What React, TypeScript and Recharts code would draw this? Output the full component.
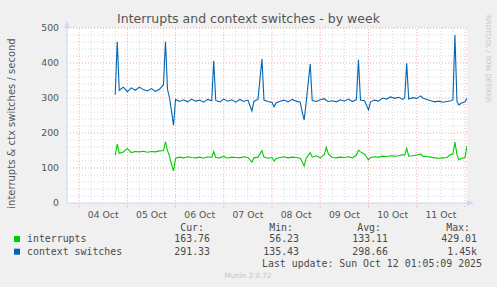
import { CartesianGrid, Line, LineChart, ReferenceLine, XAxis, YAxis } from "recharts";

// hours since 04 Oct 00:00
const hours = [
  18, 19, 20, 22, 24, 26, 28, 30, 32, 34, 36, 38, 40, 42, 43, 44, 45, 46, 47, 48,
  50, 52, 54, 56, 58, 60, 62, 64, 66, 67, 68, 70, 72, 74, 76, 78, 80, 82, 84, 86,
  87, 89, 91, 92, 94, 96, 97, 98, 100, 102, 104, 106, 108, 110, 111, 112, 113, 115, 116, 118,
  120, 122, 123, 124, 126, 128, 130, 132, 134, 136, 138, 139, 140, 142, 144, 145, 147, 149, 151, 153,
  155, 157, 159, 161, 162, 163, 164, 166, 168, 170, 171, 173, 175, 177, 179, 181, 183, 185, 186, 187,
  188, 189, 190, 192, 193,
];

const contextSwitches = [
  310, 461, 322, 331, 318, 329, 322, 331, 324, 320, 327, 319, 325, 338, 461, 325, 300, 262, 222, 296,
  290, 295, 289, 297, 291, 294, 288, 296, 292, 406, 293, 289, 297, 291, 295, 288, 296, 290, 294, 263,
  291, 296, 411, 294, 290, 287, 275, 286, 291, 294, 289, 296, 291, 288, 260, 237, 289, 397, 293, 290,
  295, 298, 293, 290, 292, 289, 295, 291, 297, 290, 296, 409, 294, 292, 266, 289, 294, 291, 300, 297,
  303, 299, 302, 296, 300, 399, 297, 301, 299, 306, 300, 296, 292, 289, 291, 288, 290, 292, 295, 480,
  290, 280, 285, 289, 299,
];

const interrupts = [
  137, 168, 142, 146, 156, 144, 147, 146, 148, 145, 147, 146, 149, 150, 175, 150, 134, 110, 92, 128,
  131, 129, 132, 130, 129, 131, 128, 132, 130, 147, 130, 129, 133, 128, 131, 130, 129, 132, 130, 117,
  129, 131, 150, 131, 128, 130, 120, 127, 130, 132, 129, 131, 130, 128, 118, 106, 128, 144, 131, 135,
  129, 138, 159, 140, 130, 129, 131, 130, 132, 129, 137, 151, 146, 140, 123, 130, 132, 131, 134, 133,
  135, 134, 135, 138, 137, 156, 134, 135, 137, 140, 134, 133, 131, 129, 128, 129, 130, 139, 140, 174,
  138, 123, 127, 130, 163,
];

const dayLabels = ["04 Oct", "05 Oct", "06 Oct", "07 Oct", "08 Oct", "09 Oct", "10 Oct", "11 Oct"];
const labelHours = [12, 36, 60, 84, 108, 132, 156, 180];
const midnightHours = [0, 24, 48, 72, 96, 120, 144, 168, 192];
const minorHours = [
  6, 12, 18, 30, 36, 42, 54, 60, 66, 78, 84, 90, 102, 108, 114, 126, 132, 138, 150, 156, 162, 174, 180, 186,
];
const yTicks = [0, 100, 200, 300, 400, 500];
const yMinor = [
  20, 40, 60, 80, 120, 140, 160, 180, 220, 240, 260, 280, 320, 340, 360, 380, 420, 440, 460, 480,
];

const legendRows = [
  { name: "interrupts", color: "#00cc00", cur: "163.76", min: "56.23", avg: "133.11", max: "429.01" },
  { name: "context switches", color: "#0066b3", cur: "291.33", min: "135.43", avg: "298.66", max: "1.45k" },
];

const data = hours.map((h, i) => ({ h, irq: interrupts[i], cs: contextSwitches[i] }));

const FONT = "'DejaVu Sans', sans-serif";
const MONO = "'DejaVu Sans Mono', monospace";
const AXIS = "#cfd6f8";

export default function App() {
  return (
    <div
      style={{
        position: "fixed",
        left: 0,
        top: 0,
        width: 497,
        height: 287,
        background: "#f0f0f0",
        overflow: "hidden",
        fontFamily: FONT,
      }}
    >
      <LineChart
        width={497}
        height={287}
        data={data}
        margin={{ top: 28, right: 30, left: 27, bottom: 64 }}
        style={{ position: "absolute", left: 0, top: 0 }}
      >
        <CartesianGrid fill="#ffffff" horizontal={false} vertical={false} />
        {minorHours.map((h) => (
          <ReferenceLine key={"vm" + h} x={h} stroke="#d6d6d6" strokeDasharray="1 2" />
        ))}
        {yMinor.map((v) => (
          <ReferenceLine key={"hm" + v} y={v} stroke="#d6d6d6" strokeDasharray="1 2" />
        ))}
        {yTicks.slice(1).map((v) => (
          <ReferenceLine key={"hM" + v} y={v} stroke="#eba5a5" strokeDasharray="1 2" />
        ))}
        {midnightHours.map((h) => (
          <ReferenceLine
            key={"vM" + h}
            segment={[
              { x: h, y: -12 },
              { x: h, y: 500 },
            ]}
            ifOverflow="visible"
            stroke="#eba5a5"
            strokeDasharray="1 2"
          />
        ))}
        <XAxis
          type="number"
          dataKey="h"
          domain={[-6, 193]}
          allowDataOverflow
          ticks={labelHours}
          interval={0}
          tickFormatter={(v: number) => dayLabels[labelHours.indexOf(v)]}
          tickLine={false}
          axisLine={{ stroke: AXIS }}
          tick={{ fontSize: 9.3, fill: "#555", fontFamily: FONT }}
          height={20}
        />
        <YAxis
          domain={[0, 500]}
          ticks={yTicks}
          interval={0}
          tickLine={false}
          axisLine={{ stroke: AXIS }}
          tick={{ fontSize: 9.3, fill: "#555", fontFamily: FONT }}
          width={40}
        />
        <Line
          type="linear"
          dataKey="irq"
          stroke="#00cc00"
          strokeWidth={1.1}
          dot={false}
          isAnimationActive={false}
        />
        <Line
          type="linear"
          dataKey="cs"
          stroke="#0066b3"
          strokeWidth={1.1}
          dot={false}
          isAnimationActive={false}
        />
      </LineChart>
      <svg
        width={497}
        height={287}
        style={{ position: "absolute", left: 0, top: 0, pointerEvents: "none" }}
      >
        <polygon points="64,28 70,28 67,21" fill={AXIS} />
        <polygon points="467,200 467,206 474,203" fill={AXIS} />
        <text x={248.5} y={23} textAnchor="middle" fontSize={12.5} fill="#555" fontFamily={FONT}>
          Interrupts and context switches - by week
        </text>
        <text
          transform="translate(15,123.5) rotate(-90)"
          textAnchor="middle"
          fontSize={10}
          fill="#555"
          fontFamily={FONT}
        >
          interrupts &amp; ctx switches / second
        </text>
        <text
          transform="translate(486,15) rotate(90)"
          fontSize={6.8}
          fill="#c4c4c4"
          fontFamily={FONT}
        >
          RRDTOOL / TOBI OETIKER
        </text>
        <g fontFamily={MONO} fontSize={9.9} fill="#4a4a4a">
          <text x={204} y={231} textAnchor="end">Cur:</text>
          <text x={293} y={231} textAnchor="end">Min:</text>
          <text x={381} y={231} textAnchor="end">Avg:</text>
          <text x={470} y={231} textAnchor="end">Max:</text>
          {legendRows.map((r, i) => {
            const y = 242 + i * 12.7;
            return (
              <g key={r.name}>
                <rect x={14} y={y - 6} width={6} height={6} fill={r.color} />
                <text x={27} y={y}>{r.name}</text>
                <text x={210} y={y} textAnchor="end">{r.cur}</text>
                <text x={299} y={y} textAnchor="end">{r.min}</text>
                <text x={388} y={y} textAnchor="end">{r.avg}</text>
                <text x={477} y={y} textAnchor="end">{r.max}</text>
              </g>
            );
          })}
          <text x={482} y={267} textAnchor="end">Last update: Sun Oct 12 01:05:09 2025</text>
        </g>
        <text x={248} y={278} textAnchor="middle" fontSize={7.2} fill="#c4c4c4" fontFamily={FONT}>
          Munin 2.0.72
        </text>
      </svg>
    </div>
  );
}
